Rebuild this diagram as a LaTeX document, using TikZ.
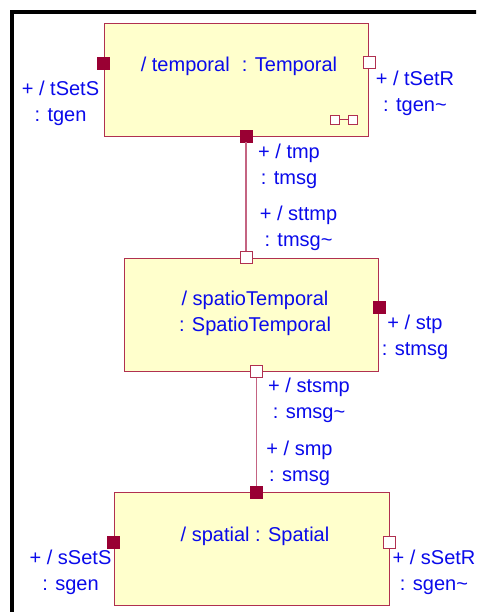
\documentclass[tikz,border=0pt]{standalone}
\usepackage{fontspec}
\setmainfont{Liberation Sans}
\definecolor{boxfill}{RGB}{255,255,204}
\definecolor{boxline}{RGB}{176,48,80}
\definecolor{portfill}{RGB}{153,0,51}
\definecolor{connline}{RGB}{196,100,130}
\definecolor{txtblue}{RGB}{10,10,235}
\tikzset{
  partbox/.style={draw=boxline, line width=0.9pt, fill=boxfill, rectangle, inner sep=0pt},
  fport/.style={draw=portfill, fill=portfill, rectangle, minimum size=12pt, inner sep=0pt, line width=0.8pt},
  hport/.style={draw=boxline, fill=white, rectangle, minimum size=12pt, inner sep=0pt, line width=0.9pt},
  iconsq/.style={draw=boxline, fill=white, rectangle, minimum width=9pt, minimum height=8.5pt, inner sep=0pt, line width=0.8pt},
  lbl/.style={text=txtblue, font=\fontsize{20}{26}\selectfont, align=center, inner sep=0pt},
  conn/.style={draw=connline, line width=1.1pt}
}
\begin{document}
\begin{tikzpicture}[x=1pt,y=-1pt]
\useasboundingbox (0,0) rectangle (476,612);
\clip (0,0) rectangle (476,612);
\fill[white] (0,0) rectangle (476,612);
% frame
\draw[line width=4pt] (12,640) -- (12,12) -- (500,12);
% boxes
\node[partbox, minimum width=264pt, minimum height=113pt] (b1) at (236,79.5) {};
\node[partbox, minimum width=254pt, minimum height=112.7pt] (b2) at (251.7,314.7) {};
\node[partbox, minimum width=274.7pt, minimum height=112.3pt] (b3) at (251.7,548.8) {};
% box texts
\node[lbl] (t1) at (239,66) {/ temporal\,\, : Temporal};
\node[lbl] (t2) at (255,313.5) {/ spatioTemporal\\: SpatioTemporal};
\node[lbl] (t3) at (255,536) {/ spatial : Spatial};
% icon
\node[iconsq] (ic1) at (335,119.7) {};
\node[iconsq] (ic2) at (352.5,119.7) {};
\draw[boxline, line width=0.8pt] (ic1) -- (ic2);
% connectors
\node[fport] (p1B) at (246,136) {};
\node[hport] (p2T) at (246,257) {};
\node[hport] (p2B) at (256.5,371.5) {};
\node[fport] (p3T) at (256.5,492) {};
\draw[conn] (p1B) -- (p2T);
\draw[conn] (p2B) -- (p3T);
% other ports
\node[fport] (p1L) at (103,63) {};
\node[hport] (p1R) at (369,62.5) {};
\node[fport] (p2R) at (379,307.5) {};
\node[fport] (p3L) at (113.3,542) {};
\node[hport] (p3R) at (389.5,542) {};
% labels
\node[lbl] (l1) at (60.5,103) {+ / tSetS\\: tgen};
\node[lbl] (l2) at (415,93) {+ / tSetR\\: tgen\textasciitilde};
\node[lbl] (l3) at (289,166) {+ / tmp\\: tmsg};
\node[lbl] (l4) at (298.5,228) {+ / sttmp\\: tmsg\textasciitilde};
\node[lbl] (l5) at (415,337) {+ / stp\\: stmsg};
\node[lbl] (l6) at (309,400.5) {+ / stsmp\\: smsg\textasciitilde};
\node[lbl] (l7) at (299.5,463) {+ / smp\\: smsg};
\node[lbl] (l8) at (70.5,572.5) {+ / sSetS\\: sgen};
\node[lbl] (l9) at (434,572.5) {+ / sSetR\\: sgen\textasciitilde};
\end{tikzpicture}
\end{document}
